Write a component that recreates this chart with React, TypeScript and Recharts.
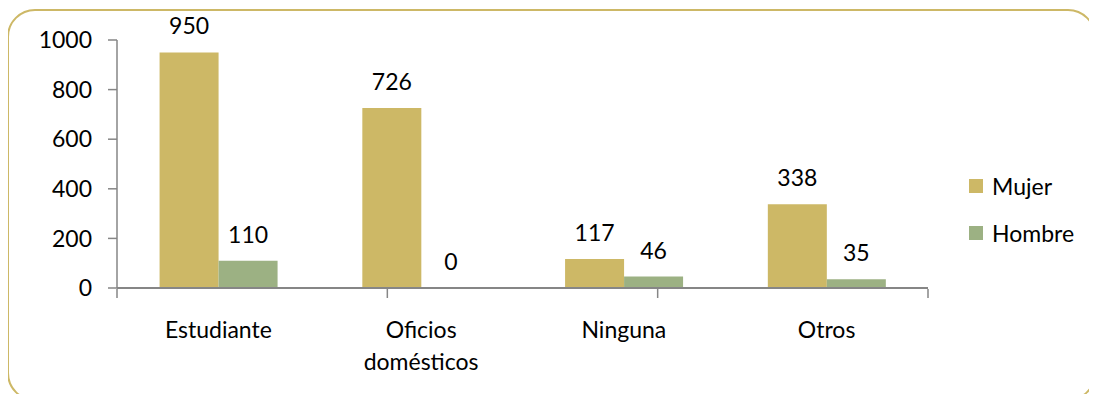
import React from 'react';
import { BarChart, Bar, XAxis, YAxis, LabelList, Text } from 'recharts';

const categories = ['Estudiante', 'Oficios domésticos', 'Ninguna', 'Otros'];
const mujer = [950, 726, 117, 338];
const hombre = [110, 0, 46, 35];
const yTicks = [0, 200, 400, 600, 800, 1000];

const seriesNames = ['Mujer', 'Hombre'];
const seriesColors = ['#CDB866', '#9CB183'];

const data = categories.map((name, i) => ({
    name,
    Mujer: mujer[i],
    Hombre: hombre[i],
}));

const edgeTicks = categories.map((_, i) => i).concat(categories.length);

const FONT = 'Lato, "Open Sans", sans-serif';
const AXIS_GRAY = '#868686';

const CategoryTick = ({ x, y, payload }: any) => (
    <Text
        x={x}
        y={y}
        width={110}
        textAnchor="middle"
        verticalAnchor="start"
        lineHeight={32}
        fontSize={23}
        fontFamily={FONT}
        fill="#000"
    >
        {payload.value}
    </Text>
);

// keeps zero bars (and their labels) without drawing anything visible
const tinyForZero = (value: any) => (value === 0 ? 0.01 : 0);

export default function App() {
    return (
        <div style={{ position: 'relative', width: 1097, height: 402, margin: -8, background: '#fff' }}>
            <div
                style={{
                    position: 'absolute',
                    left: 7,
                    top: 9,
                    width: 1085,
                    height: 388,
                    border: '2.5px solid #CDB866',
                    borderRadius: 28,
                }}
            />
            <div style={{ position: 'absolute', left: 0, top: 0 }}>
                <BarChart
                    width={1097}
                    height={402}
                    data={data}
                    margin={{ top: 40, right: 169, bottom: 112, left: 0 }}
                    barCategoryGap="21%"
                    barGap={0}
                >
                    <XAxis
                        xAxisId="edge"
                        type="number"
                        domain={[0, categories.length]}
                        ticks={edgeTicks}
                        tickFormatter={() => ''}
                        axisLine={false}
                        tickLine={{ stroke: AXIS_GRAY, strokeWidth: 1.5 }}
                        tickSize={9}
                        height={1}
                    />
                    <XAxis
                        dataKey="name"
                        height={1}
                        tick={<CategoryTick />}
                        tickLine={false}
                        tickSize={8}
                        tickMargin={26}
                        interval={0}
                        axisLine={{ stroke: AXIS_GRAY, strokeWidth: 2 }}
                    />
                    <YAxis
                        width={117}
                        domain={[0, 1000]}
                        ticks={yTicks}
                        interval={0}
                        tickSize={9}
                        tickMargin={16}
                        axisLine={{ stroke: AXIS_GRAY, strokeWidth: 1.5 }}
                        tickLine={{ stroke: AXIS_GRAY, strokeWidth: 1.5 }}
                        tick={{ fill: '#000', fontSize: 23, fontFamily: FONT }}
                    />
                    {seriesNames.map((s, i) => (
                        <Bar
                            key={s}
                            dataKey={s}
                            fill={seriesColors[i]}
                            minPointSize={tinyForZero}
                            isAnimationActive={false}
                        >
                            <LabelList
                                dataKey={s}
                                position="top"
                                offset={18}
                                fill="#000"
                                fontSize={23}
                                fontFamily={FONT}
                            />
                        </Bar>
                    ))}
                </BarChart>
            </div>
            <div style={{ position: 'absolute', left: 969, top: 162, fontFamily: FONT, fontSize: 23, color: '#000' }}>
                {seriesNames.map((s, i) => (
                    <div key={s} style={{ display: 'flex', alignItems: 'center', height: 47 }}>
                        <span style={{ width: 14, height: 14, background: seriesColors[i], marginRight: 9 }} />
                        <span>{s}</span>
                    </div>
                ))}
            </div>
        </div>
    );
}
